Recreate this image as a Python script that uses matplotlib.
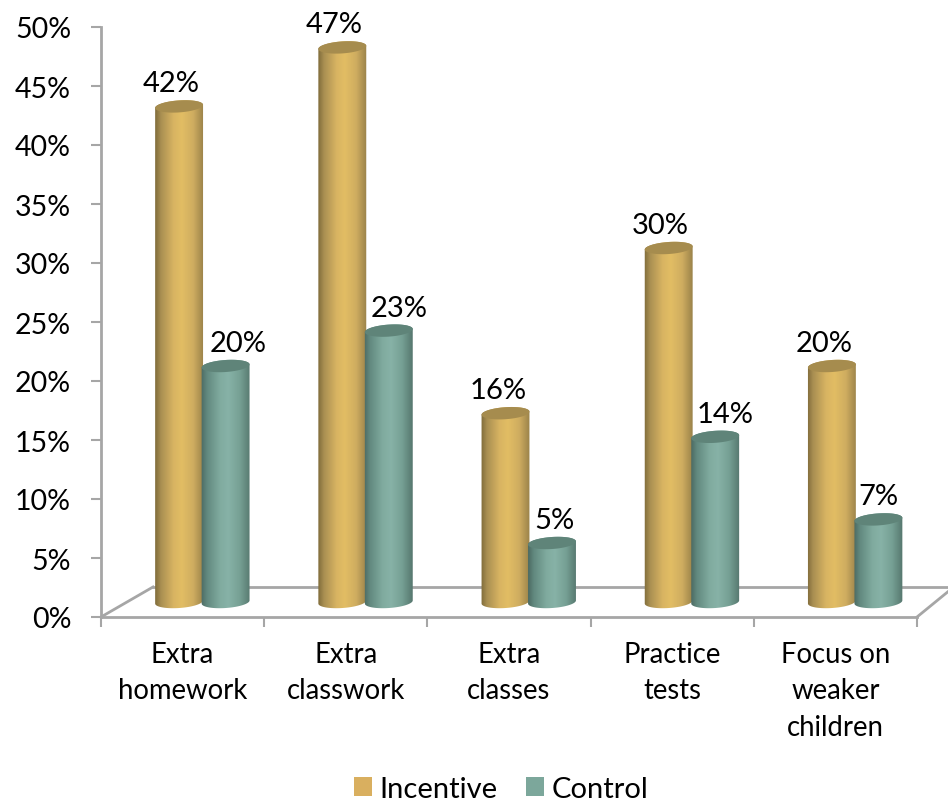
import numpy as np
import matplotlib
matplotlib.use('Agg')
import matplotlib.pyplot as plt
from matplotlib.colors import LinearSegmentedColormap
from matplotlib.patches import Patch, Polygon

# Data
categories = ['Extra\nhomework', 'Extra\nclasswork', 'Extra\nclasses', 'Practice\ntests',
              'Focus on\nweaker\nchildren']
incentive = [42, 47, 16, 30, 20]
control = [20, 23, 5, 14, 7]

GRID = '#a6a6a6'
FONT = 'Lato'
W, H = 948, 804

plt.rcParams['font.family'] = [FONT, 'DejaVu Sans']

fig = plt.figure(figsize=(W / 100, H / 100), dpi=100)
# axes box in pixels: x 101-917, y 28-618
ax = fig.add_axes([101 / W, 1 - 618 / H, 816 / W, 590 / H])
ax.set_xlim(0, 5)
ax.set_ylim(0, 50)
ax.patch.set_alpha(0)

PX_X = 5 / 816   # data units per pixel
PX_Y = 50 / 590

gold_map = LinearSegmentedColormap.from_list(
    'gold', [(0, '#7f6b3a'), (0.12, '#a98f52'), (0.38, '#d8b462'), (0.55, '#e2bd64'),
             (0.78, '#cfad60'), (1, '#9a824a')])
teal_map = LinearSegmentedColormap.from_list(
    'teal', [(0, '#4c6b63'), (0.12, '#62897f'), (0.38, '#80ab9f'), (0.55, '#87b2a7'),
             (0.78, '#76a094'), (1, '#56776e')])


def ellipse_points(cx, cy, t):
    # flattened ring of the cylinder, tilted up to the right
    a, b, tilt = 24.0, 6.0, np.radians(4)
    ex = a * np.cos(t)
    ey = b * np.sin(t)
    px = ex * np.cos(tilt) - ey * np.sin(tilt)
    py = ex * np.sin(tilt) + ey * np.cos(tilt)
    return cx + px * PX_X, cy + py * PX_Y


def draw_cylinder(x, value, cmap, top_color, z):
    base = 15 * PX_Y
    top = base + value
    t_low = np.linspace(np.pi, 2 * np.pi, 60)
    t_up = np.linspace(0, np.pi, 60)
    # body outline: lower arc of the base, then upper part of the top ring
    bx, by = ellipse_points(x, base, t_low)
    tx, ty = ellipse_points(x, top, t_up)
    outline = Polygon(np.c_[np.r_[bx, tx], np.r_[by, ty]], closed=True,
                      transform=ax.transData, facecolor='none', edgecolor='none')
    ax.add_patch(outline)
    half = 24.5 * PX_X
    grad = np.linspace(0, 1, 200)[None, :]
    im = ax.imshow(grad, cmap=cmap, extent=[x - half, x + half, 0, top + 1],
                   aspect='auto', zorder=z, interpolation='bilinear')
    im.set_clip_path(outline)
    cap_t = np.linspace(0, 2 * np.pi, 120)
    cx, cy = ellipse_points(x, top, cap_t)
    ax.fill(cx, cy, color=top_color, lw=0, zorder=z + 0.1)


# 3D floor drawn with the axes frame
depth_x = 52 * PX_X
depth_y = 30 * PX_Y
ax.plot([0, depth_x], [0, depth_y], color=GRID, lw=2, clip_on=False, zorder=1)
ax.plot([depth_x, 5 + depth_x * 0.6], [depth_y, depth_y], color=GRID, lw=2, clip_on=False, zorder=1)
ax.plot([5, 5 + depth_x * 0.6], [0, depth_y * 0.85], color=GRID, lw=2, clip_on=False, zorder=1)

inc_dx = [-8, -8, -7, -8, -8]
ctl_dx = [13, 10, 2, 10, 0]
for i in range(len(categories)):
    xc = i + 0.5 + 20 * PX_X
    x_inc = xc - 23.5 * PX_X
    x_ctl = xc + 23 * PX_X
    draw_cylinder(x_inc, incentive[i], gold_map, '#a68c4e', 3)
    draw_cylinder(x_ctl, control[i], teal_map, '#5f8479', 4)
    ax.text(x_inc + inc_dx[i] * PX_X, 15 * PX_Y + incentive[i] + 23 * PX_Y, f'{incentive[i]}%',
            ha='center', va='center', fontsize=21, color='black', zorder=6, clip_on=False)
    ax.text(x_ctl + ctl_dx[i] * PX_X, 15 * PX_Y + control[i] + 23 * PX_Y, f'{control[i]}%',
            ha='center', va='center', fontsize=21, color='black', zorder=6, clip_on=False)

ax.set_xlim(0, 5)
ax.set_ylim(0, 50)

# Axes
for side in ['top', 'right']:
    ax.spines[side].set_visible(False)
for side in ['left', 'bottom']:
    ax.spines[side].set_color(GRID)
    ax.spines[side].set_linewidth(2)
ax.set_yticks(range(0, 51, 5))
ax.set_yticklabels([f'{v}%' for v in range(0, 51, 5)], fontsize=20.5)
ax.set_xticks(range(0, 6))
ax.set_xticklabels([])
ax.set_xticks(np.arange(len(categories)) + 0.5, minor=True)
ax.set_xticklabels(categories, minor=True, fontsize=19.8, linespacing=1.5)
ax.tick_params(axis='y', length=7, width=1.5, color=GRID, pad=14.5)
ax.tick_params(axis='x', which='major', length=7, width=1.5, color=GRID)
ax.tick_params(axis='x', which='minor', length=0, pad=17)

# Legend
handles = [Patch(facecolor='#d9af5f', label='Incentive'), Patch(facecolor='#7ca79b', label='Control')]
fig.legend(handles=handles, loc='center', bbox_to_anchor=(501 / W, 1 - 790 / H), ncol=2, frameon=False,
           fontsize=21, handlelength=0.62, handleheight=0.62, handletextpad=0.27, columnspacing=0.95,
           borderpad=0)

fig.savefig('out.png', dpi=100, facecolor='white')
plt.close(fig)
